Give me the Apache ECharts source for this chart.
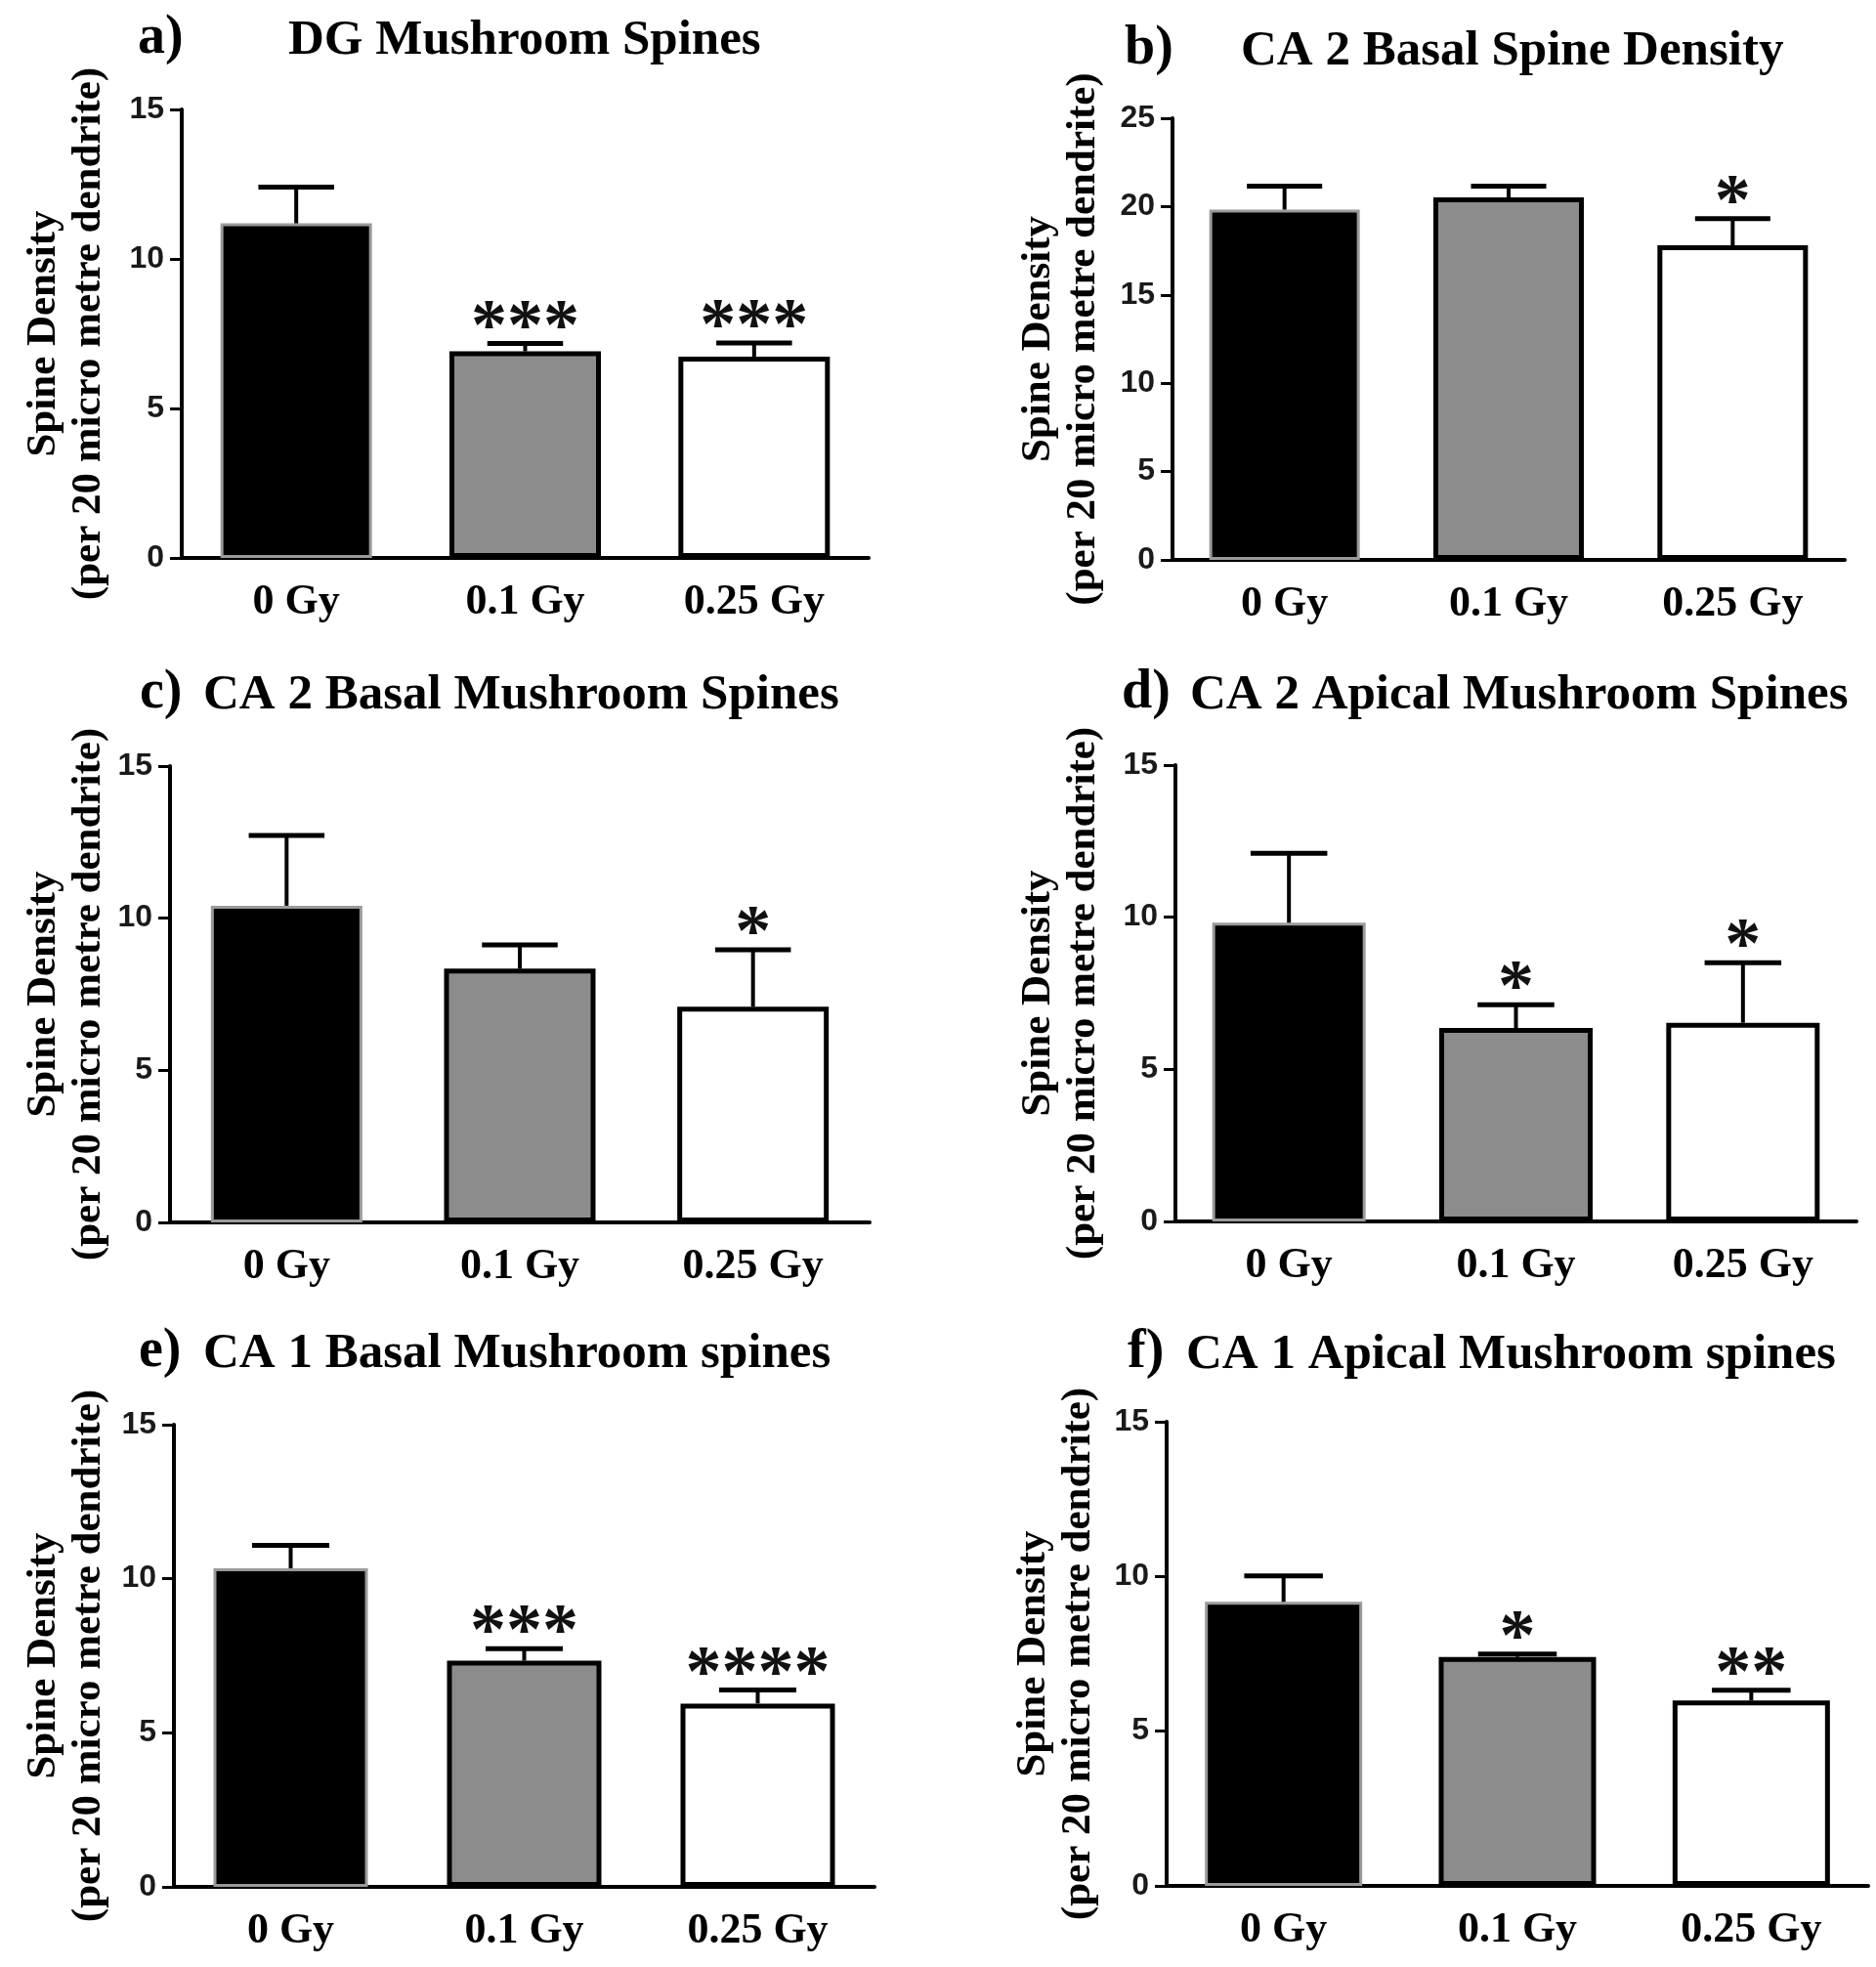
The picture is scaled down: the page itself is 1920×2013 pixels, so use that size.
<!DOCTYPE html>
<html>
<head>
<meta charset="utf-8">
<script src="https://cdn.jsdelivr.net/npm/echarts@6/dist/echarts.min.js"></script>
<style>
  html, body { margin: 0; padding: 0; background: #ffffff; }
  #chart { width: 1920px; height: 2013px; }
</style>
</head>
<body>
<div id="chart"></div>
<script>
// ---------------- DATA ----------------
const categories = ['0 Gy', '0.1 Gy', '0.25 Gy'];

const panelLetters = ['a)', 'b)', 'c)', 'd)', 'e)', 'f)'];
const panelTitles = [
  'DG Mushroom Spines',
  'CA 2 Basal Spine Density',
  'CA 2 Basal Mushroom Spines',
  'CA 2 Apical Mushroom Spines',
  'CA 1 Basal Mushroom spines',
  'CA 1 Apical Mushroom spines'
];
const yAxisTitle = 'Spine Density\n(per 20 micro metre dendrite)';
const yMaxValues = [15, 25, 15, 15, 15, 15];
const yTickStep = 5;

// mean values (bar heights)
const meanA = [11.19, 6.91, 6.73];
const meanB = [19.83, 20.52, 17.81];
const meanC = [10.41, 8.34, 7.09];
const meanD = [9.82, 6.36, 6.53];
const meanE = [10.34, 7.34, 5.95];
const meanF = [9.18, 7.40, 5.99];

// error (SEM, upper whisker length)
const semA = [1.21, 0.26, 0.46];
const semB = [1.33, 0.64, 1.51];
const semC = [2.31, 0.78, 1.87];
const semD = [2.28, 0.76, 1.97];
const semE = [0.74, 0.39, 0.44];
const semF = [0.84, 0.09, 0.33];

// significance markers
const sigA = ['', '***', '***'];
const sigB = ['', '', '*'];
const sigC = ['', '', '*'];
const sigD = ['', '*', '*'];
const sigE = ['', '***', '****'];
const sigF = ['', '*', '**'];

const means = [meanA, meanB, meanC, meanD, meanE, meanF];
const sems = [semA, semB, semC, semD, semE, semF];
const sigs = [sigA, sigB, sigC, sigD, sigE, sigF];

// ---------------- LAYOUT / STYLE ----------------
const layout = [
  { left: 186,  top: 112,  width: 703, height: 459, barW: 155, nameGap: 72, letterX: 141,  titleX: 295,  cy: 44 },
  { left: 1200, top: 121,  width: 688, height: 452, barW: 154, nameGap: 68, letterX: 1151, titleX: 1270, cy: 55 },
  { left: 174,  top: 784,  width: 716, height: 467, barW: 155, nameGap: 60, letterX: 143,  titleX: 208,  cy: 714 },
  { left: 1203, top: 783,  width: 697, height: 467, barW: 157, nameGap: 71, letterX: 1148, titleX: 1218, cy: 714 },
  { left: 178,  top: 1458, width: 717, height: 473, barW: 158, nameGap: 64, letterX: 142,  titleX: 208,  cy: 1388 },
  { left: 1194, top: 1455, width: 718, height: 475, barW: 161, nameGap: 67, letterX: 1154, titleX: 1214, cy: 1389 }
];
const barFills = ['#000000', '#8c8c8c', '#ffffff'];
const barBorders = ['#9a9a9a', '#000000', '#000000'];
const barBorderW = [3, 5, 5];
const serif = "'Liberation Serif', 'Times New Roman', serif";
const sans = "'Liberation Sans', Arial, sans-serif";

const titles = [], grids = [], xAxes = [], yAxes = [], series = [];

layout.forEach((L, p) => {
  titles.push({
    text: panelLetters[p], left: L.letterX, top: L.cy - 32, padding: 0,
    textStyle: { fontFamily: serif, fontWeight: 'bold', fontSize: 56, color: '#000' }
  });
  titles.push({
    text: panelTitles[p], left: L.titleX, top: L.cy - 28, padding: 0,
    textStyle: { fontFamily: serif, fontWeight: 'bold', fontSize: 51, color: '#000' }
  });
  grids.push({ left: L.left, top: L.top, width: L.width, height: L.height, containLabel: false });
  xAxes.push({
    type: 'category', gridIndex: p, data: categories,
    axisLine: { lineStyle: { color: '#000', width: 4 } },
    axisTick: { alignWithLabel: true, length: 12, lineStyle: { color: '#000', width: 3 } },
    axisLabel: { margin: 24, fontFamily: serif, fontWeight: 'bold', fontSize: 44, color: '#000' },
    splitLine: { show: false }
  });
  yAxes.push({
    type: 'value', gridIndex: p, min: 0, max: yMaxValues[p], interval: yTickStep,
    name: yAxisTitle, nameLocation: 'middle', nameRotate: 90, nameGap: L.nameGap,
    nameTextStyle: { fontFamily: serif, fontWeight: 'bold', fontSize: 43, lineHeight: 46, color: '#000' },
    axisLine: { show: true, lineStyle: { color: '#000', width: 4 } },
    axisTick: { show: true, length: 12, lineStyle: { color: '#000', width: 3 } },
    axisLabel: { margin: 18, fontFamily: sans, fontWeight: 'bold', fontSize: 32, color: '#1a1a1a' },
    splitLine: { show: false }
  });
  series.push({
    type: 'bar', xAxisIndex: p, yAxisIndex: p, barWidth: L.barW,
    data: means[p].map((v, i) => ({
      value: v,
      itemStyle: { color: barFills[i], borderColor: barBorders[i], borderWidth: barBorderW[i] }
    })),
    z: 2
  });
  const capHalf = L.barW / 4;
  series.push({
    type: 'custom', xAxisIndex: p, yAxisIndex: p, z: 5,
    data: means[p].map((v, i) => [i, v, sems[p][i]]),
    renderItem: function (params, api) {
      const i = api.value(0), m = api.value(1), s = api.value(2);
      const base = api.coord([i, m]);
      const top = api.coord([i, m + s]);
      const children = [
        { type: 'line', shape: { x1: top[0], y1: base[1], x2: top[0], y2: top[1] },
          style: { stroke: '#000', lineWidth: 4 } },
        { type: 'line', shape: { x1: top[0] - capHalf, y1: top[1], x2: top[0] + capHalf, y2: top[1] },
          style: { stroke: '#000', lineWidth: 5 } }
      ];
      const sig = sigs[p][params.dataIndex];
      if (sig) {
        children.push({
          type: 'text',
          style: {
            text: sig, x: top[0], y: top[1] - 14,
            align: 'center', verticalAlign: 'middle',
            fontFamily: serif, fontSize: 74, fontWeight: 'bold', fill: '#111'
          }
        });
      }
      return { type: 'group', children: children };
    }
  });
});

const chart = echarts.init(document.getElementById('chart'), null, { renderer: 'canvas' });
chart.setOption({
  backgroundColor: '#ffffff',
  animation: false,
  title: titles,
  grid: grids,
  xAxis: xAxes,
  yAxis: yAxes,
  series: series
});
</script>
</body>
</html>
